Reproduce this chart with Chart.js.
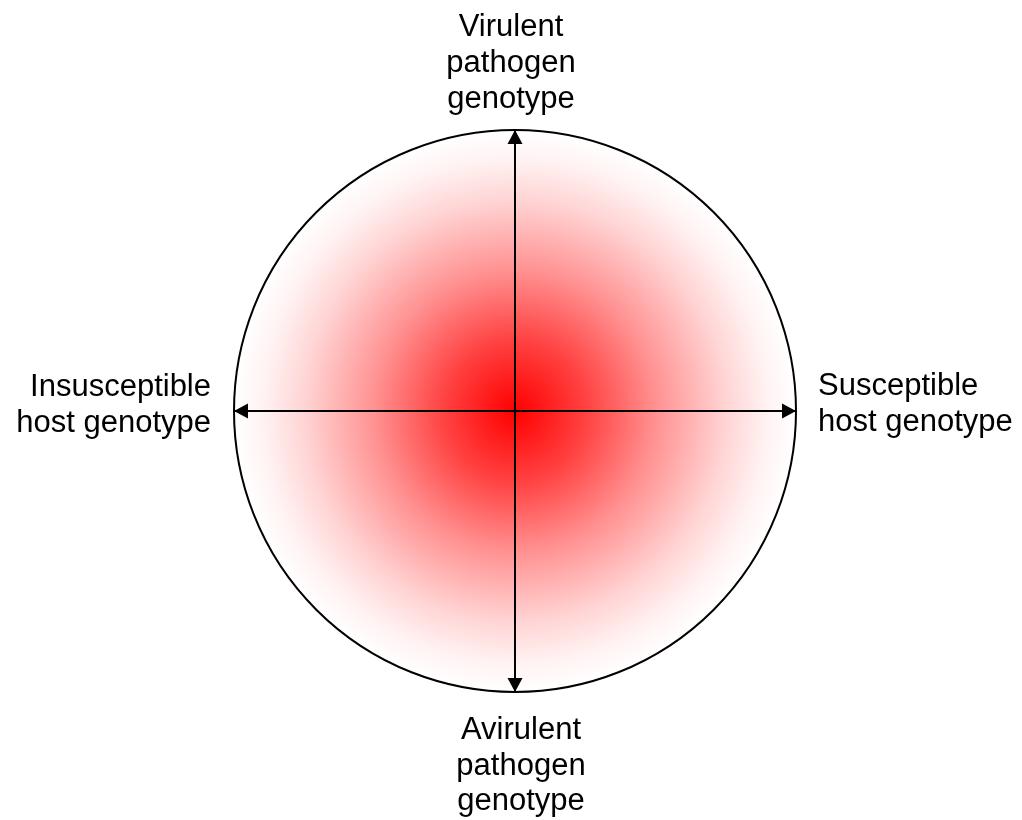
<!DOCTYPE html>
<html>
<head>
<meta charset="utf-8">
<script src="https://cdn.jsdelivr.net/npm/chart.js@4"></script>
<style>
html,body{margin:0;padding:0;background:#fff;}
#wrap{width:1022px;height:820px;position:relative;}
</style>
</head>
<body>
<div id="wrap"><canvas id="c" width="1022" height="820"></canvas></div>
<script>
// Axis endpoints (data units, circle radius = 1)
const horizontalAxis = [{x:-1, y:0}, {x:1, y:0}];
const verticalAxis = [{x:0, y:-1}, {x:0, y:1}];
// Label texts
const labelTop = ["Virulent", "pathogen", "genotype"];
const labelBottom = ["Avirulent", "pathogen", "genotype"];
const labelLeft = ["Insusceptible", "host genotype"];
const labelRight = ["Susceptible", "host genotype"];

const diagramPlugin = {
  id: 'diagram',
  beforeDatasetsDraw(chart) {
    const {ctx, scales:{x, y}} = chart;
    const cx = x.getPixelForValue(0), cy = y.getPixelForValue(0);
    const r = Math.abs(x.getPixelForValue(1) - cx);
    ctx.save();
    const g = ctx.createRadialGradient(cx, cy, 0, cx, cy, r);
    g.addColorStop(0, 'rgb(255,0,0)');
    g.addColorStop(0.25, 'rgb(255,65,65)');
    g.addColorStop(0.5, 'rgb(255,145,145)');
    g.addColorStop(0.75, 'rgb(255,212,212)');
    g.addColorStop(0.9, 'rgb(255,243,243)');
    g.addColorStop(1, 'rgb(255,255,255)');
    ctx.beginPath();
    ctx.arc(cx, cy, r, 0, Math.PI*2);
    ctx.fillStyle = g;
    ctx.fill();
    ctx.lineWidth = 2;
    ctx.strokeStyle = '#000';
    ctx.stroke();
    ctx.restore();
  },
  afterDatasetsDraw(chart) {
    const {ctx, scales:{x, y}} = chart;
    const cx = x.getPixelForValue(0), cy = y.getPixelForValue(0);
    ctx.save();
    ctx.fillStyle = '#000';
    const L = 14, W = 7.5;
    const ends = [horizontalAxis[0], horizontalAxis[1], verticalAxis[0], verticalAxis[1]];
    for (const p of ends) {
      const px = x.getPixelForValue(p.x), py = y.getPixelForValue(p.y);
      // unit vector from tip toward the centre (pixels)
      const d = Math.hypot(cx - px, cy - py) || 1;
      const ux = (cx - px) / d, uy = (cy - py) / d;
      ctx.beginPath();
      ctx.moveTo(px, py);
      ctx.lineTo(px + ux*L - uy*W, py + uy*L + ux*W);
      ctx.lineTo(px + ux*L + uy*W, py + uy*L - ux*W);
      ctx.closePath();
      ctx.fill();
    }
    // Labels
    ctx.font = '31px "Liberation Sans", Arial, sans-serif';
    ctx.fillStyle = '#000';
    ctx.textBaseline = 'alphabetic';
    const top = y.getPixelForValue(1), bottom = y.getPixelForValue(-1);
    const left = x.getPixelForValue(-1), right = x.getPixelForValue(1);
    ctx.textAlign = 'center';
    labelTop.forEach((t, i) => ctx.fillText(t, cx - 4, top - 94 + i*36));
    labelBottom.forEach((t, i) => ctx.fillText(t, cx + 6, bottom + 47 + i*35.5));
    ctx.textAlign = 'right';
    labelLeft.forEach((t, i) => ctx.fillText(t, left - 23, cy - 15 + i*36));
    ctx.textAlign = 'left';
    labelRight.forEach((t, i) => ctx.fillText(t, right + 22, cy - 16 + i*36));
    ctx.restore();
  }
};

new Chart(document.getElementById('c'), {
  type: 'scatter',
  data: {
    datasets: [
      {data: horizontalAxis, showLine: true, borderColor: '#000', borderWidth: 2, pointRadius: 0, clip: false},
      {data: verticalAxis, showLine: true, borderColor: '#000', borderWidth: 2, pointRadius: 0, clip: false}
    ]
  },
  options: {
    responsive: false,
    animation: false,
    layout: {padding: {left: 234, right: 226, top: 130, bottom: 128}},
    plugins: {legend: {display: false}, tooltip: {enabled: false}},
    scales: {
      x: {type: 'linear', min: -1, max: 1, display: false},
      y: {type: 'linear', min: -1, max: 1, display: false}
    }
  },
  plugins: [diagramPlugin]
});
</script>
</body>
</html>
